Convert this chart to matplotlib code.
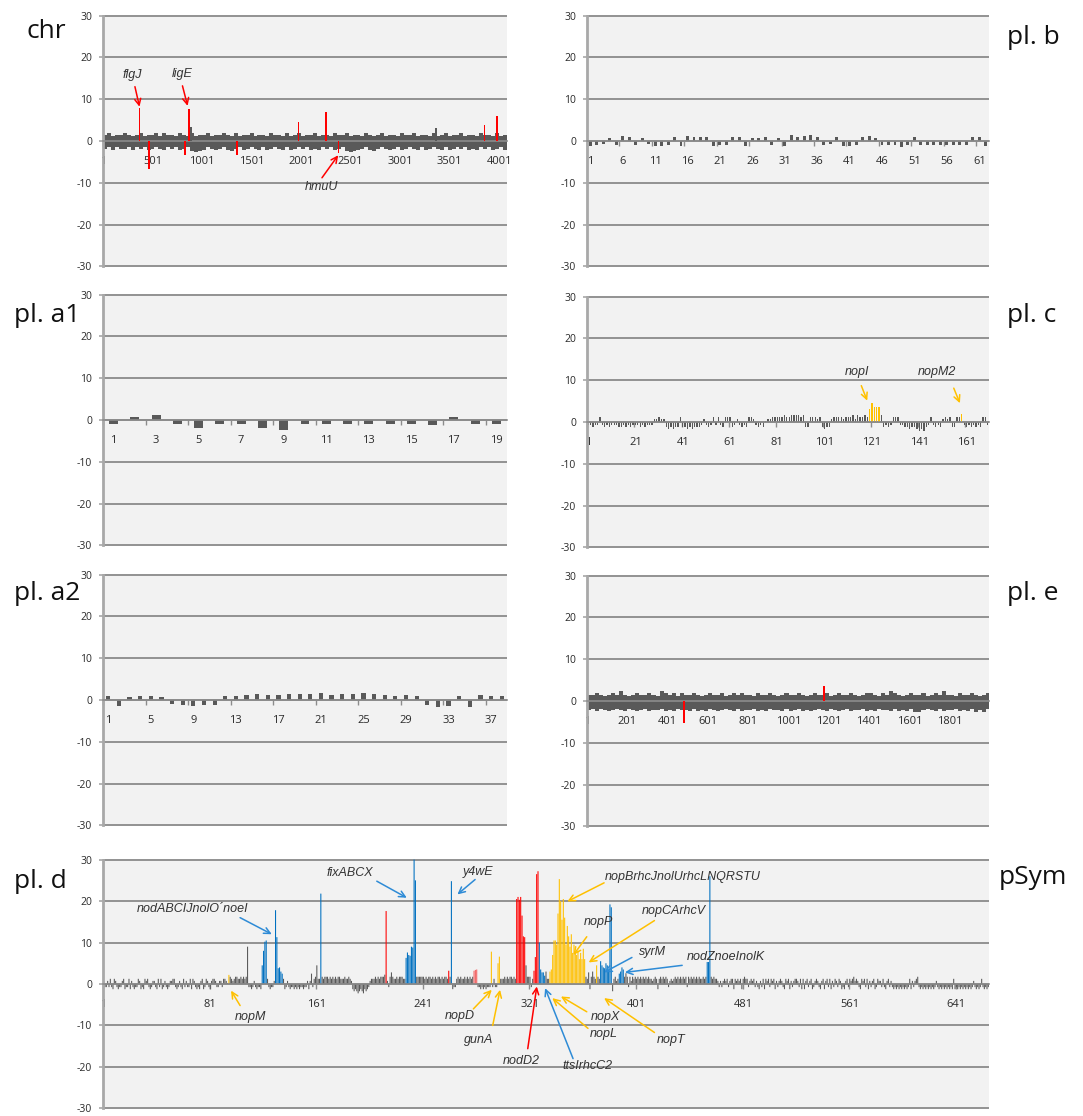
import numpy as np
import matplotlib.pyplot as plt

plt.rcParams['font.family'] = ['Open Sans', 'DejaVu Sans']
plt.rcParams['axes.unicode_minus'] = False

GRAY = '#595959'
RED = '#ff0000'
PINK = '#f26060'
YELLOW = '#ffc000'
BLUE = '#0070c0'
ARROW_BLUE = '#2e8bd6'

# ==================== data ====================
# per-gene codes: digit d -> (d - 4.5) * 0.5   (0-4 negative, 5-9 positive)
# band codes (chr, pl. e): digit d -> d * 0.3 (upper) / -d * 0.3 (lower), per block

a1_vals = [-1.0, 0.8, 1.1, -1.0, -1.8, -1.0, -1.0, -1.8, -2.3, -1.0,
           -1.0, -1.0, -1.0, -1.0, -1.0, -1.3, 0.8, -1.0, -1.0]

a2_vals = [0.9, -1.4, 0.6, 0.9, 0.9, 0.7, -0.9, -1.3, -1.4, -1.1,
           -1.1, 0.9, 0.9, 1.1, 1.4, 1.2, 1.1, 1.4, 1.4, 1.4,
           1.7, 1.1, 1.4, 1.4, 1.7, 1.4, 1.1, 0.9, 1.2, 0.9,
           -1.1, -1.6, -1.4, 0.9, -1.7, 1.2, 0.9, 0.9]

b_vals = [-1.2, -1.0, -0.8, 0.8, -1.0, 1.2, 0.9, -1.0, 0.6, -0.8,
          -1.2, -1.3, -1.0, 0.9, -1.2, 1.3, 1.0, 1.0, 1.0, -1.2,
          -1.0, -0.9, 1.0, 1.0, -1.2, 0.7, 0.6, 1.0, -0.9, 0.8,
          -1.2, 1.5, 0.9, 1.3, 1.5, 1.0, -1.0, -0.7, 1.0, -1.2,
          -1.3, -1.0, 1.0, 1.3, 0.7, -1.0, -1.0, -1.0, -1.4, -1.0,
          1.0, -1.0, -1.0, -1.0, -1.0, -1.0, -1.0, -1.0, -1.0, 1.0,
          1.0, -1.2]

c_code = ("3323373232 3332232323 3323233366 7662121227 2212122236 "
          "3237373277 7236323277 6323256677 7778778888 7822777672 "
          "1226777767 7786877877 7777823237 7733221221 0102373232 "
          "6767227773 2323232773")
c_yellow_idx = [120, 121, 122, 123, 124, 159]
c_yellow_val = [3.0, 4.5, 3.6, 3.6, 3.6, 2.0]

d_code = ("6336373276 3233672337 2632337623 2767323663 2737236323 6677323632 7363372763 "
          "2326723763 2677633663 7765787678 8778787833 3236323326 7777323367 7777772363 "
          "2332323233 2336269378 9777878887 8787878877 7877876212 1012102123 6777878788 "
          "8986389877 8788877777 7777788888 8787887878 7887878877 8723378787 7878787877 "
          "7332323233 3737337877 7878788787 7777777988 8373777777 7797777777 7777777777 "
          "7777777777 7787828287 7877777777 7717867777 7878386878 7878787878 7767872787 "
          "8787367678 7878787838 7878787877 8787778787 7636367673 6772767672 7877367673 "
          "6326372767 3767263676 3276726367 7637272673 6723676326 7267372637 6376232673 "
          "7678676327 6737263672 3766373267 3632323232 3232372636 7832323232 3232363232 "
          "3232323272 3232323232 3236323237 32323")
d_blue_idx = [120, 121, 122, 123, 130, 131, 132, 133, 134, 135, 164,
              228, 229, 230, 231, 232, 233, 234, 235, 262,
              328, 329, 330, 331, 332, 374, 375, 376, 377, 378, 379, 380, 381, 382,
              388, 389, 390, 391, 454, 455, 456]
d_blue_val = [4.5, 8.0, 10.2, 10.5, 17.8, 11.3, 3.8, 4.0, 3.0, 2.5, 21.8,
              6.3, 7.6, 7.0, 6.8, 9.0, 8.8, 30.0, 25.0, 24.8,
              10.0, 3.5, 2.8, 2.8, 2.0, 5.5, 4.5, 4.0, 3.8, 5.0, 4.5, 3.5, 19.2, 18.5,
              2.5, 3.0, 4.0, 3.5, 5.3, 5.3, 26.0]
d_red_idx = [213, 260, 311, 312, 313, 314, 315, 316, 317, 324, 325, 326, 327]
d_red_val = [17.6, 3.2, 20.5, 21.0, 20.3, 21.0, 16.5, 11.5, 11.3, 3.2, 6.5, 26.5, 27.2]
d_pink_idx = [279, 280, 281]
d_pink_val = [3.2, 3.4, 3.5]
d_yellow_idx = [95, 292, 297, 298, 336, 337] + list(range(338, 363)) + [371]
d_yellow_val = [2.2, 7.8, 5.0, 6.6, 3.0, 3.5,
                7.0, 10.5, 10.5, 9.5, 17.0, 25.3, 20.0, 15.5, 20.5, 16.0,
                9.5, 14.0, 11.5, 9.0, 12.0, 7.5, 9.5, 7.5, 7.0, 8.0,
                6.0, 7.5, 6.0, 8.5, 6.0, 4.5]
d_gray_idx = [109, 157, 161, 217, 318, 333, 365, 368, 393]
d_gray_val = [9.0, 2.5, 4.5, 2.8, 4.5, 3.0, 2.8, 3.0, 2.6]

chr_n, chr_block = 4080, 40
chr_upper = ("5645565456 4556465546 5464556455 6546455645 5465546456 "
             "4556455465 5645546545 6455465564 5546456455 6455465546 45")
chr_lower = ("6575665756 5765675657 6589875676 5786576567 5765675765 "
             "6576756576 5898765786 5676576567 5765675765 6576756576 57")
chr_red_idx = [369, 462, 831, 866, 1353, 1975, 2253, 2379, 3854, 3979]
chr_red_val = [7.8, -6.8, -3.4, 7.6, -3.4, 4.6, 6.9, -2.8, 3.8, 6.0]
chr_gray_idx = [893, 3360]
chr_gray_val = [3.4, 3.0]

e_n, e_block = 1995, 20
e_upper = ("5565456585 4565565486 5646556545 6556456565 5465565456 "
           "5565456556 4565565456 6546586545 6556456585 5465565456")
e_lower = ("7686787678 6787687768 7867786878 6787678687 7687867786 "
           "8768787678 6787687768 7867786878 6997678687 7687869796")
e_red_idx = [480, 1176]
e_red_val = [-5.3, 3.5]


def decode(code):
    return np.array([(int(ch) - 4.5) * 0.5 for ch in code.replace(' ', '')])


def band(code, sign):
    return np.array([sign * int(ch) * 0.3 for ch in code.replace(' ', '')])


# ==================== helpers ====================
W, H = 1083, 1116
fig = plt.figure(figsize=(W / 100, H / 100), dpi=100)


def rect(x0, y0, x1, y1):
    return [x0 / W, 1 - y1 / H, (x1 - x0) / W, (y1 - y0) / H]


def setup(ax, n, step):
    ax.set_facecolor('#f2f2f2')
    ax.set_xlim(0.5, n + 0.5)
    ax.set_ylim(-30.15, 30.15)
    ax.set_yticks(np.arange(-30, 31, 10))
    ax.yaxis.grid(True, color='#8a8a8a', lw=1.3)
    ax.set_axisbelow(True)
    for s in ('top', 'right'):
        ax.spines[s].set_visible(False)
    ax.spines['left'].set_color('#a8a8a8')
    ax.spines['left'].set_linewidth(2.0)
    ax.spines['left'].set_bounds(-30, 30)
    ax.spines['bottom'].set_position(('data', 0))
    ax.spines['bottom'].set_color('#8c8c8c')
    ax.spines['bottom'].set_linewidth(1.2)
    labels = np.arange(1, n + 1, step)
    ax.set_xticks(labels)
    ax.set_xticklabels([str(v) for v in labels])
    ax.set_xticks(np.arange(0.5, n + 0.6, step), minor=True)
    ax.tick_params(axis='x', which='major', length=0, pad=11, labelsize=8, labelcolor='#2a2a2a')
    ax.tick_params(axis='x', which='minor', length=3.5, color='#8c8c8c', width=1)
    ax.tick_params(axis='y', length=3, color='#a8a8a8', width=1.2, pad=5,
                   labelsize=7.5, labelcolor='#2a2a2a')


def bars(ax, vals, width, color=GRAY, snap=None):
    x = np.arange(1, len(vals) + 1)
    ax.bar(x, vals, width=width, color=color, lw=0, snap=snap)


def band_bars(ax, n, block, upper, lower):
    starts = np.arange(len(upper)) * block + 0.5
    widths = np.minimum(block, n + 0.5 - starts)
    ax.bar(starts, upper, width=widths, align='edge', color=GRAY, lw=0)
    ax.bar(starts, lower, width=widths, align='edge', color=GRAY, lw=0)


def note(ax, text, txy, tail, head, color):
    ax.text(txy[0], txy[1], text, ha='center', va='center', fontsize=9,
            style='italic', family=['Liberation Sans', 'DejaVu Sans'], color='#333333')
    ax.annotate('', xy=head, xytext=tail,
                arrowprops=dict(arrowstyle='->,head_length=0.45,head_width=0.22',
                                color=color, lw=1.1, shrinkA=0, shrinkB=0))


def panel_label(x, y, text):
    fig.text(x / W, 1 - y / H, text, fontsize=19, ha='left', va='center', color='#111111')


# ==================== chr ====================
ax = fig.add_axes(rect(103, 15, 507, 267))
setup(ax, chr_n, 500)
band_bars(ax, chr_n, chr_block, band(chr_upper, 1), band(chr_lower, -1))
ax.bar(chr_gray_idx, chr_gray_val, width=18, color=GRAY, lw=0, zorder=3)
ax.bar(chr_red_idx, chr_red_val, width=18, color=RED, lw=0, zorder=3)
note(ax, 'flgJ', (299, 15.8), (323, 13.0), (369, 8.2), RED)
note(ax, 'ligE', (796, 16.0), (803, 13.2), (855, 8.4), RED)
note(ax, 'hmuU', (2212, -11.0), (2212, -8.8), (2376, -3.4), RED)

# ==================== pl. b ====================
ax = fig.add_axes(rect(587, 15, 989, 267))
setup(ax, len(b_vals), 5)
bars(ax, b_vals, 0.45)

# ==================== pl. a1 ====================
ax = fig.add_axes(rect(103, 294, 507, 546))
setup(ax, len(a1_vals), 2)
bars(ax, a1_vals, 0.42)

# ==================== pl. c ====================
ax = fig.add_axes(rect(587, 296, 989, 548))
c_vals = decode(c_code)
setup(ax, len(c_vals), 20)
c_cols = [GRAY] * len(c_vals)
for i, v in zip(c_yellow_idx, c_yellow_val):
    c_vals[i - 1] = v
    c_cols[i - 1] = YELLOW
bars(ax, c_vals, 0.55, c_cols)
note(ax, 'nopI', (114.6, 12.0), (116.5, 8.7), (119, 5.1), YELLOW)
note(ax, 'nopM2', (148.3, 12.0), (155.6, 8.1), (158.2, 4.5), YELLOW)

# ==================== pl. a2 ====================
ax = fig.add_axes(rect(103, 574, 507, 826))
setup(ax, len(a2_vals), 4)
bars(ax, a2_vals, 0.4)

# ==================== pl. e ====================
ax = fig.add_axes(rect(587, 575, 989, 827))
setup(ax, e_n, 200)
band_bars(ax, e_n, e_block, band(e_upper, 1), band(e_lower, -1))
ax.bar(e_red_idx, e_red_val, width=9, color=RED, lw=0, zorder=3)

# ==================== pl. d / pSym ====================
ax = fig.add_axes(rect(103, 859, 989, 1109))
d_vals = decode(d_code)
setup(ax, len(d_vals), 80)
d_cols = [GRAY] * len(d_vals)
for idx, vals, col in [(d_gray_idx, d_gray_val, GRAY), (d_pink_idx, d_pink_val, PINK),
                       (d_yellow_idx, d_yellow_val, YELLOW), (d_red_idx, d_red_val, RED),
                       (d_blue_idx, d_blue_val, BLUE)]:
    for i, v in zip(idx, vals):
        d_vals[i - 1] = v
        d_cols[i - 1] = col
bars(ax, d_vals, 0.8, d_cols, snap=False)

notes_d = [
    ('nodABCIJnolO\u00b4noeI', (68.1, 18.0), (103.4, 16.0), (127.2, 12.0), ARROW_BLUE),
    ('fixABCX', (185.9, 26.8), (206, 24.8), (228.5, 20.8), ARROW_BLUE),
    ('y4wE', (282.3, 26.9), (279.8, 25.2), (266.5, 21.6), ARROW_BLUE),
    ('nopBrhcJnolUrhcLNQRSTU', (435.8, 25.8), (376.6, 24.4), (349, 19.9), YELLOW),
    ('nopP', (372.3, 14.9), (363.6, 11.4), (353.6, 7.0), YELLOW),
    ('nopCArhcV', (429.2, 17.5), (414.4, 15.3), (365, 5.2), YELLOW),
    ('syrM', (413, 7.8), (397.5, 6.4), (376.6, 2.8), ARROW_BLUE),
    ('nodZnoeInolK', (468.2, 6.5), (435.2, 4.5), (392.2, 2.8), ARROW_BLUE),
    ('nopM', (110.9, -8.0), (103.4, -5.2), (96.6, -1.6), YELLOW),
    ('nopD', (268.5, -7.7), (278.5, -6.0), (292.3, -1.4), YELLOW),
    ('gunA', (282.3, -13.4), (293, -10.0), (298.5, -1.4), YELLOW),
    ('nodD2', (314.8, -18.5), (319.3, -15.6), (326.1, -0.6), RED),
    ('ttsIrhcC2', (363.9, -19.8), (353.3, -18.0), (332.3, -1.0), ARROW_BLUE),
    ('nopX', (377.4, -8.0), (363.6, -6.7), (344.2, -3.0), YELLOW),
    ('nopL', (376.6, -12.1), (364.5, -10.7), (337.7, -3.4), YELLOW),
    ('nopT', (426.8, -13.4), (414.4, -11.7), (376.6, -3.4), YELLOW),
]
for t, txy, tail, head, col in notes_d:
    note(ax, t, txy, tail, head, col)

# ==================== panel names ====================
panel_label(27, 31, 'chr')
panel_label(14, 316, 'pl. a1')
panel_label(14, 593, 'pl. a2')
panel_label(14, 882, 'pl. d')
panel_label(1007, 38, 'pl. b')
panel_label(1007, 315, 'pl. c')
panel_label(1007, 593, 'pl. e')
panel_label(999, 878, 'pSym')

fig.savefig('out.png', dpi=100)
